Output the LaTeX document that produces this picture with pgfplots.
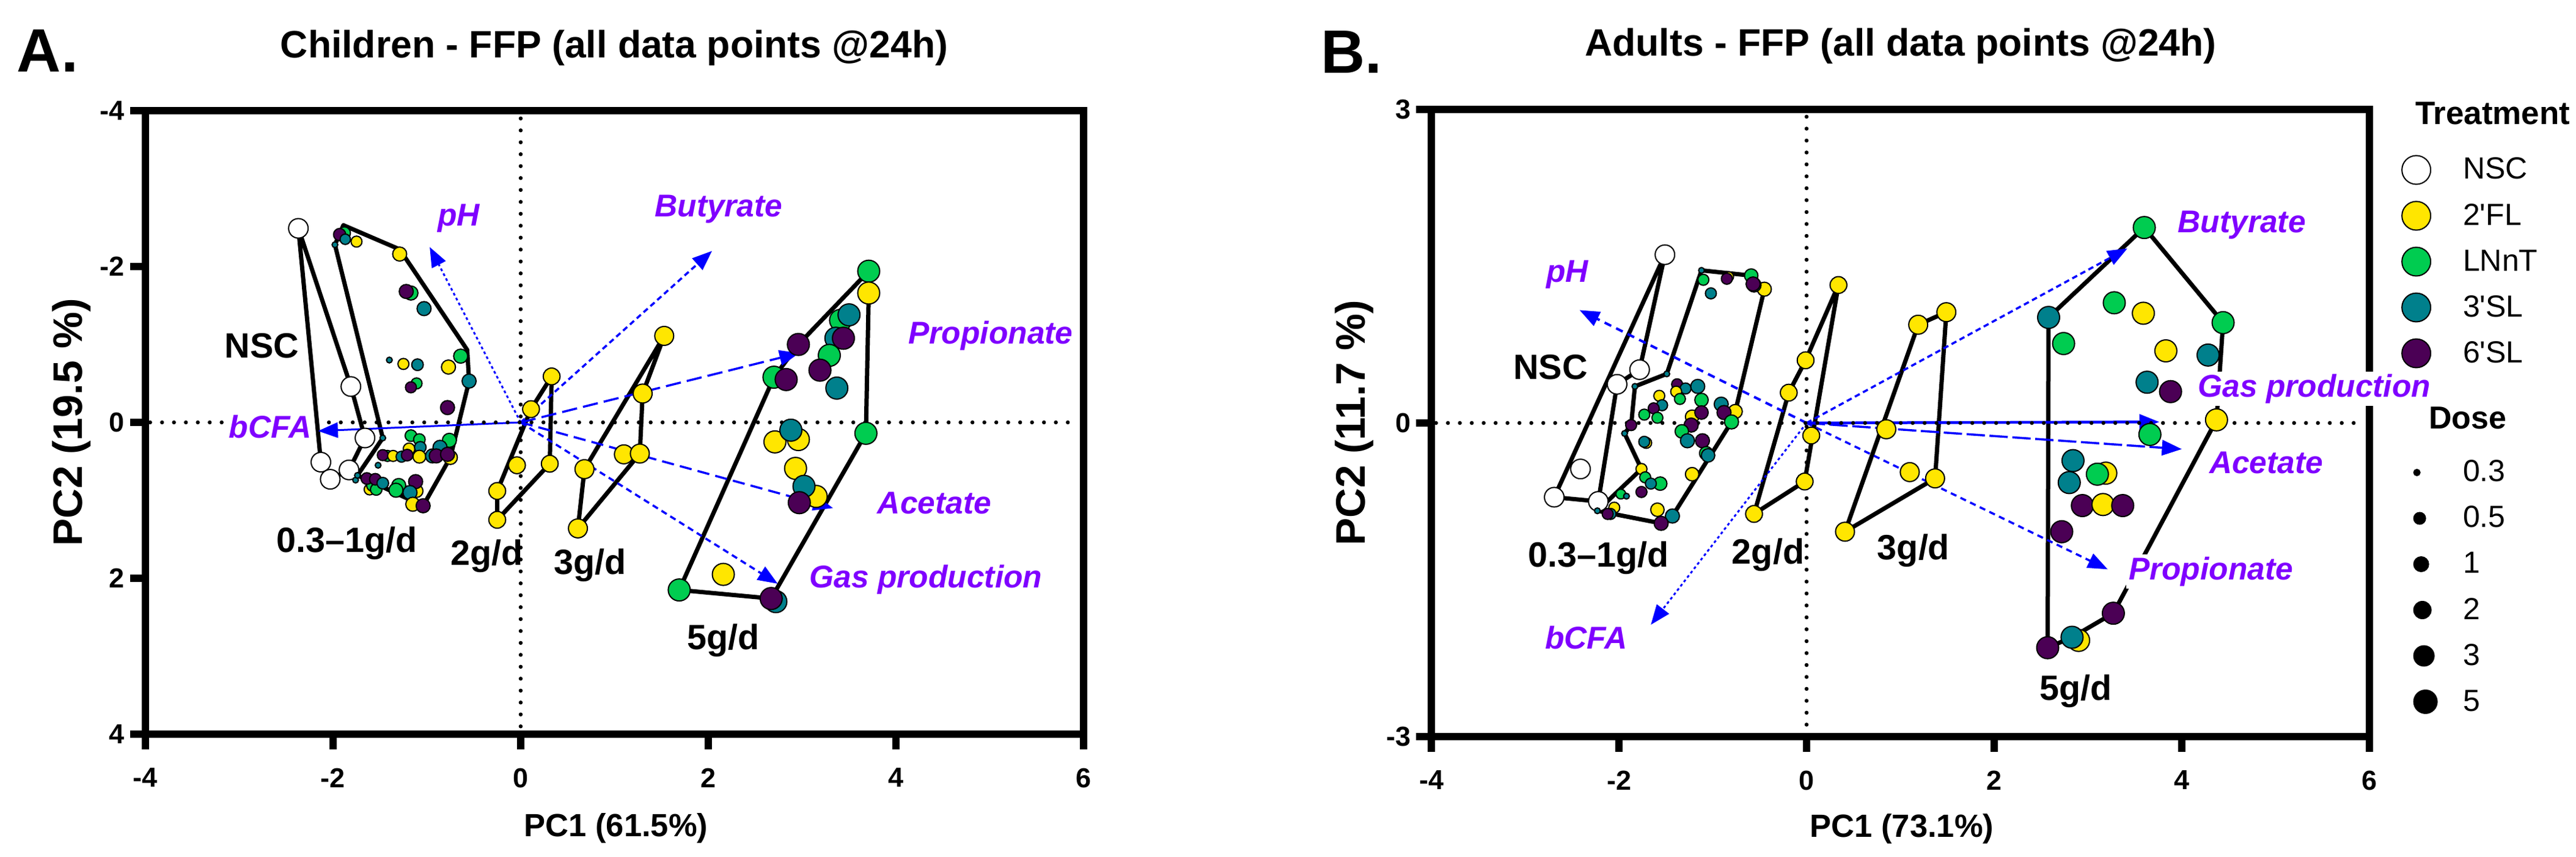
\documentclass[border=0pt]{standalone}
\usepackage{fontspec}
\setmainfont{Liberation Sans}
\usepackage{pgfplots}
\pgfplotsset{compat=1.18}
\usetikzlibrary{arrows.meta}

\definecolor{cF}{RGB}{255,230,0}
\definecolor{cL}{RGB}{0,204,80}
\definecolor{cT}{RGB}{0,128,140}
\definecolor{cS}{RGB}{75,0,85}
\definecolor{vio}{RGB}{127,0,255}
\definecolor{arrblue}{RGB}{0,0,255}

\pgfplotsset{
  pca/.style={
    scale only axis, width=307pt, clip=false,
    xmin=-4, xmax=6,
    xtick={-4,-2,0,2,4,6}, xticklabels={-4,-2,0,2,4,6},
    axis line style={line width=2.4pt},
    tick style={black, line width=2.4pt},
    major tick length=5pt, tick align=outside,
    xtick pos=left, ytick pos=left,
    tick label style={font=\fontsize{9}{10}\selectfont\bfseries},
    xticklabel style={anchor=north, inner sep=0pt, yshift=-6pt},
    yticklabel style={anchor=east, inner sep=0pt, xshift=-1.6pt},
  },
  pts/.style={
    scatter, only marks, mark=*, forget plot,
    scatter src=explicit symbolic,
    scatter/classes={
      N={draw=black, fill=white, line width=0.4pt},
      F={draw=black, fill=cF, line width=0.4pt},
      L={draw=black, fill=cL, line width=0.4pt},
      T={draw=black, fill=cT, line width=0.4pt},
      S={draw=black, fill=cS, line width=0.4pt}},
    visualization depends on={\thisrow{s}\as\psz},
    scatter/@pre marker code/.append style={/tikz/mark size=\psz},
  },
  hull/.style={black, line width=1.4pt, line join=round, mark=none, forget plot},
  arr/.style={color=arrblue, line width=0.7pt, mark=none, forget plot,
    -{Triangle[length=6.5pt,width=5pt]}},
  zero/.style={black, line width=1.3pt, line cap=round, mark=none,
    dash pattern=on 0pt off 3.9pt, forget plot},
}
\tikzset{
  lab/.style={font=\fontsize{10.3}{12}\selectfont\bfseries\itshape, text=vio,
    fill=white, inner sep=0.8pt, anchor=base},
  grp/.style={font=\fontsize{11.5}{13}\selectfont\bfseries, inner sep=0pt, anchor=base},
}

\begin{document}
\begin{tikzpicture}
\useasboundingbox (0,0) rectangle (843pt,280.4pt);

% ---------------- A: children ----------------
\begin{axis}[pca, at={(47.6pt,40.2pt)}, anchor=south west, height=204pt,
  y dir=reverse, ymin=-4, ymax=4,
  ytick={-4,-2,0,2,4}, yticklabels={-4,-2,0,2,4}]

% dose hulls
\addplot[hull] coordinates {(-2.37,-2.49) (-2.13,0.51) (-2.03,0.73) (-1.83,0.61) (-1.66,0.20) (-1.81,-0.46) (-2.37,-2.49)};
\addplot[hull] coordinates {(-1.98,-2.28) (-1.89,-2.53) (-1.29,-2.22) (-0.57,-0.93) (-0.55,-0.53) (-0.75,0.45) (-1.04,1.07) (-1.74,0.68) (-1.47,0.20) (-1.98,-2.28)};
\addplot[hull] coordinates {(0.33,-0.59) (0.31,0.53) (-0.25,1.25) (-0.25,0.88) (0.11,-0.17) (0.33,-0.59)};
\addplot[hull] coordinates {(1.53,-1.11) (1.30,-0.37) (1.27,0.40) (0.61,1.36) (0.68,0.60) (1.53,-1.11)};
\addplot[hull] coordinates {(1.69,2.15) (2.67,2.26) (3.68,0.14) (3.71,-1.66) (3.71,-1.94) (2.96,-1.00) (2.70,-0.58) (1.69,2.15)};

% samples: x y treatment marksize
\addplot[pts] table[row sep=\\, x=x, y=y, meta=c] {
x y c s\\
-2.37 -2.49 N 3.2\\ -1.81 -0.46 N 3.2\\ -1.66 0.20 N 3.2\\
-2.13 0.51 N 3.2\\ -2.03 0.73 N 3.2\\ -1.83 0.61 N 3.2\\
-1.88 -2.43 L 2.0\\ -1.93 -2.41 S 2.0\\ -1.87 -2.35 T 1.7\\
-1.75 -2.32 F 1.8\\ -1.98 -2.28 T 0.95\\ -1.29 -2.16 F 2.3\\
-1.17 -1.66 L 2.3\\ -1.22 -1.68 S 2.3\\ -1.03 -1.46 T 2.3\\
-1.40 -0.80 T 0.95\\ -1.25 -0.75 F 1.8\\ -1.10 -0.74 T 1.9\\
-0.77 -0.71 F 2.3\\ -0.64 -0.85 L 2.3\\ -0.55 -0.53 T 2.3\\
-1.11 -0.50 L 1.8\\ -1.17 -0.45 S 1.8\\ -0.78 -0.19 S 2.3\\
-1.47 0.20 T 0.95\\ -1.17 0.17 L 1.9\\ -1.08 0.22 L 1.9\\
-0.76 0.23 L 2.3\\ -1.19 0.34 F 1.9\\ -1.07 0.32 T 1.9\\
-0.86 0.32 T 2.3\\ -1.42 0.43 L 1.8\\ -1.47 0.42 S 1.8\\
-1.36 0.43 F 1.8\\ -1.27 0.44 T 1.8\\ -1.21 0.42 S 1.9\\
-1.08 0.44 F 2.1\\ -0.75 0.45 F 2.3\\ -0.94 0.43 T 2.3\\
-0.90 0.43 S 2.3\\ -0.78 0.41 S 2.3\\ -1.52 0.55 T 0.95\\
-1.76 0.74 T 0.95\\ -1.74 0.68 T 0.95\\ -1.61 0.86 F 1.8\\
-1.58 0.81 L 1.9\\ -1.54 0.86 L 1.9\\ -1.64 0.72 S 1.9\\
-1.55 0.73 S 1.9\\ -1.47 0.78 T 1.9\\ -1.30 0.81 L 2.3\\
-1.33 0.87 L 2.3\\ -1.11 0.88 F 2.1\\ -1.12 0.76 S 2.3\\
-1.18 0.90 T 2.3\\ -1.15 1.05 F 2.3\\ -1.04 1.07 S 2.3\\
0.33 -0.59 F 2.75\\ 0.11 -0.17 F 2.75\\ -0.04 0.55 F 2.75\\
0.31 0.53 F 2.75\\ -0.25 0.88 F 2.75\\ -0.25 1.25 F 2.75\\
1.53 -1.11 F 3.1\\ 1.30 -0.37 F 3.1\\ 1.10 0.41 F 3.1\\
1.27 0.40 F 3.1\\ 0.68 0.60 F 3.1\\ 0.61 1.36 F 3.1\\
3.71 -1.94 L 3.6\\ 3.71 -1.66 F 3.6\\ 3.41 -1.31 L 3.6\\
3.50 -1.38 T 3.6\\ 3.36 -1.08 T 3.6\\ 3.44 -1.08 S 3.6\\
3.29 -0.86 L 3.6\\ 3.19 -0.67 S 3.6\\ 3.37 -0.44 T 3.6\\
2.96 -1.00 S 3.6\\ 2.70 -0.58 L 3.6\\ 2.83 -0.55 S 3.6\\
3.68 0.14 L 3.6\\ 2.71 0.25 F 3.6\\ 2.96 0.22 F 3.6\\
2.88 0.10 T 3.6\\ 2.93 0.59 F 3.6\\ 3.15 0.95 F 3.6\\
3.02 0.82 T 3.6\\ 2.97 1.03 S 3.6\\ 1.69 2.15 L 3.6\\
2.16 1.95 F 3.6\\ 2.72 2.30 T 3.6\\ 2.67 2.26 S 3.6\\
};

% loadings
\addplot[arr, line width=0.6pt, dash pattern=on 0.9pt off 0.9pt] coordinates {(0,0) (-0.97,-2.25)};
\addplot[arr, dash pattern=on 1.8pt off 1.2pt] coordinates {(0,0) (2.04,-2.20)};
\addplot[arr, dash pattern=on 5pt off 2pt] coordinates {(0,0) (2.97,-0.89)};
\addplot[arr, dash pattern=on 4pt off 2pt] coordinates {(0,0) (3.33,1.10)};
\addplot[arr, dash pattern=on 2pt off 1.4pt] coordinates {(0,0) (2.74,2.07)};
\addplot[arr, line width=0.6pt] coordinates {(0,0) (-2.16,0.11)};

\addplot[zero] coordinates {(-3.95,0) (5.95,0)};
\addplot[zero] coordinates {(0,-3.9) (0,3.95)};

\node[lab] at (axis cs:-0.66,-2.52) {pH};
\node[lab] at (axis cs:2.11,-2.64) {Butyrate};
\node[lab] at (axis cs:5.01,-1.01) {Propionate};
\node[lab] at (axis cs:4.41,1.17) {Acetate};
\node[lab] at (axis cs:4.32,2.12) {Gas production};
\node[lab] at (axis cs:-2.67,0.20) {bCFA};

\node[grp] at (axis cs:-2.76,-0.83) {NSC};
\node[grp] at (axis cs:-1.85,1.67) {0.3–1g/d};
\node[grp] at (axis cs:-0.36,1.83) {2g/d};
\node[grp] at (axis cs:0.74,1.95) {3g/d};
\node[grp] at (axis cs:2.16,2.91) {5g/d};
\end{axis}

% ---------------- B: adults ----------------
\begin{axis}[pca, at={(468.4pt,39.4pt)}, anchor=south west, height=205.2pt,
  ymin=-3, ymax=3, ytick={-3,0,3}, yticklabels={-3,0,3},
  legend cell align=left,
  legend style={at={(1,1)}, anchor=north west, xshift=6.6pt, yshift=5.2pt,
    draw=none, fill=none, inner sep=0pt, row sep=1pt,
    font=\fontsize{10}{12}\selectfont,
    nodes={inner sep=1pt, text height=9pt, text depth=3pt},
    /tikz/every odd column/.append style={column sep=7.5pt}}]

\addplot[hull] coordinates {(-1.51,1.61) (-2.69,-0.71) (-2.22,-0.75) (-2.02,0.37) (-1.78,0.51) (-1.51,1.61)};
\addplot[hull] coordinates {(-1.12,1.46) (-0.59,1.41) (-0.45,1.28) (-0.76,0.11) (-0.80,0.01) (-1.43,-0.89) (-1.55,-0.96) (-2.23,-0.84) (-1.76,-0.44) (-1.94,-0.10) (-1.87,-0.02) (-1.83,0.35) (-1.49,0.47) (-1.12,1.46)};
\addplot[hull] coordinates {(0.34,1.32) (-0.02,-0.56) (-0.56,-0.87) (-0.19,0.29) (-0.01,0.60) (0.34,1.32)};
\addplot[hull] coordinates {(1.49,1.06) (1.37,-0.53) (0.41,-1.04) (1.19,0.94) (1.49,1.06)};
\addplot[hull] coordinates {(2.58,1.01) (3.60,1.87) (4.44,0.96) (4.37,0.03) (3.27,-1.82) (2.83,-2.05) (2.57,-2.15) (2.58,1.01)};

\addplot[pts] table[row sep=\\, x=x, y=y, meta=c] {
x y c s\\
-1.51 1.61 N 3.2\\ -1.78 0.51 N 3.2\\ -2.02 0.37 N 3.2\\
-2.41 -0.44 N 3.2\\ -2.69 -0.71 N 3.2\\ -2.22 -0.75 N 3.2\\
-1.12 1.46 T 0.95\\ -0.59 1.41 L 2.2\\ -0.45 1.28 F 2.3\\
-0.56 1.32 T 2.3\\ -0.57 1.33 S 2.3\\ -1.10 1.37 L 1.8\\
-0.83 1.40 F 1.6\\ -0.85 1.38 S 1.8\\ -1.02 1.24 T 1.8\\
-1.49 0.47 T 0.95\\ -1.83 0.35 T 0.95\\ -1.38 0.37 S 1.8\\
-1.29 0.33 T 1.8\\ -1.16 0.35 T 2.3\\ -1.39 0.30 F 1.8\\
-1.35 0.23 L 1.8\\ -1.57 0.26 F 1.8\\ -1.54 0.17 T 1.8\\
-1.63 0.14 S 1.8\\ -1.73 0.08 L 1.8\\ -1.59 0.05 L 1.8\\
-1.12 0.22 L 2.2\\ -1.22 0.06 F 2.2\\ -1.12 0.10 S 2.2\\
-0.91 0.18 T 2.3\\ -0.76 0.11 F 2.3\\ -0.88 0.10 S 2.3\\
-0.80 0.01 L 2.3\\ -1.87 -0.02 S 1.8\\ -1.94 -0.10 T 0.95\\
-1.23 -0.02 S 2.3\\ -1.33 -0.08 L 2.2\\ -1.27 -0.17 T 2.3\\
-1.11 -0.17 S 2.3\\ -1.07 -0.29 L 2.2\\ -1.05 -0.31 T 2.2\\
-1.71 -0.19 F 1.8\\ -1.73 -0.18 T 1.8\\ -1.76 -0.44 F 1.8\\
-1.22 -0.49 F 2.2\\ -1.72 -0.52 L 1.8\\ -1.56 -0.58 L 2.2\\
-1.66 -0.58 T 1.8\\ -1.76 -0.66 S 1.8\\ -1.98 -0.68 L 1.6\\
-1.92 -0.70 T 0.95\\ -1.59 -0.83 F 2.2\\ -2.05 -0.81 F 1.8\\
-2.23 -0.84 T 0.95\\ -2.09 -0.87 T 1.8\\ -2.12 -0.87 S 1.8\\
-1.43 -0.89 T 2.3\\ -1.55 -0.96 S 2.3\\
0.34 1.32 F 2.75\\ -0.01 0.60 F 2.75\\ -0.19 0.29 F 2.75\\
0.05 -0.12 F 2.75\\ -0.02 -0.56 F 2.75\\ -0.56 -0.87 F 2.75\\
1.19 0.94 F 3.1\\ 1.49 1.06 F 3.1\\ 0.85 -0.06 F 3.1\\
1.10 -0.47 F 3.1\\ 1.37 -0.53 F 3.1\\ 0.41 -1.04 F 3.1\\
2.58 1.01 T 3.6\\ 2.74 0.76 L 3.6\\ 3.60 1.87 L 3.6\\
3.28 1.15 L 3.6\\ 3.59 1.05 F 3.6\\ 4.44 0.96 L 3.6\\
3.83 0.69 F 3.6\\ 4.28 0.65 T 3.6\\ 3.63 0.39 T 3.6\\
3.88 0.30 S 3.6\\ 3.66 -0.11 L 3.6\\ 4.37 0.03 F 3.6\\
2.84 -0.36 T 3.6\\ 2.80 -0.57 T 3.6\\ 3.19 -0.48 F 3.6\\
3.10 -0.49 L 3.6\\ 2.94 -0.79 S 3.6\\ 3.16 -0.78 F 3.6\\
3.37 -0.79 S 3.6\\ 2.72 -1.04 S 3.6\\ 3.27 -1.82 S 3.6\\
2.90 -2.08 F 3.6\\ 2.83 -2.05 T 3.6\\ 2.57 -2.15 S 3.6\\
};

\addplot[arr, line width=0.8pt, dash pattern=on 2.4pt off 1.8pt] coordinates {(0,0) (-2.42,1.08)};
\addplot[arr, dash pattern=on 1.8pt off 1.2pt] coordinates {(0,0) (3.42,1.67)};
\addplot[arr, line width=0.6pt, dash pattern=on 0.9pt off 0.9pt] coordinates {(0,0) (-1.66,-1.93)};
\addplot[arr, line width=0.9pt] coordinates {(0,0) (3.76,0.01)};
\addplot[arr, dash pattern=on 6pt off 1.5pt] coordinates {(0,0) (4.00,-0.25)};
\addplot[arr, dash pattern=on 2pt off 1.5pt] coordinates {(0,0) (3.21,-1.40)};

\addplot[zero] coordinates {(-3.95,0) (5.95,0)};
\addplot[zero] coordinates {(0,2.93) (0,-2.97)};

\node[lab] at (axis cs:-2.55,1.35) {pH};
\node[lab] at (axis cs:4.64,1.82) {Butyrate};
\node[lab, anchor=base west] at (axis cs:4.14,0.25) {Gas production};
\node[lab] at (axis cs:4.90,-0.48) {Acetate};
\node[lab] at (axis cs:4.31,-1.50) {Propionate};
\node[lab] at (axis cs:-2.35,-2.16) {bCFA};

\node[grp] at (axis cs:-2.73,0.42) {NSC};
\node[grp] at (axis cs:-2.22,-1.38) {0.3–1g/d};
\node[grp] at (axis cs:-0.41,-1.35) {2g/d};
\node[grp] at (axis cs:1.14,-1.31) {3g/d};
\node[grp] at (axis cs:2.87,-2.65) {5g/d};

\addlegendimage{empty legend}
\addlegendentry[text depth=5.8pt]{\makebox[0pt][l]{\hspace{-15.6pt}\fontsize{10.6}{12}\selectfont\bfseries Treatment}}
\addlegendimage{only marks, mark=*, mark size=4.7pt, mark options={draw=black, fill=white, line width=0.4pt}}
\addlegendentry{NSC}
\addlegendimage{only marks, mark=*, mark size=4.7pt, mark options={draw=black, fill=cF, line width=0.4pt}}
\addlegendentry{2\textquotesingle FL}
\addlegendimage{only marks, mark=*, mark size=4.7pt, mark options={draw=black, fill=cL, line width=0.4pt}}
\addlegendentry{LNnT}
\addlegendimage{only marks, mark=*, mark size=4.7pt, mark options={draw=black, fill=cT, line width=0.4pt}}
\addlegendentry{3\textquotesingle SL}
\addlegendimage{only marks, mark=*, mark size=4.7pt, mark options={draw=black, fill=cS, line width=0.4pt}}
\addlegendentry{6\textquotesingle SL}
\addlegendimage{empty legend}
\addlegendentry[text height=15.8pt, text depth=5.2pt]{\makebox[0pt][l]{\hspace{-11.2pt}\fontsize{10.4}{12}\selectfont\bfseries Dose}}
\addlegendimage{only marks, mark=*, mark size=1.0pt, black, xshift=0.2pt}
\addlegendentry{0.3}
\addlegendimage{only marks, mark=*, mark size=1.9pt, black, xshift=1.1pt}
\addlegendentry{0.5}
\addlegendimage{only marks, mark=*, mark size=2.4pt, black, xshift=1.6pt}
\addlegendentry{1}
\addlegendimage{only marks, mark=*, mark size=2.8pt, black, xshift=2pt}
\addlegendentry{2}
\addlegendimage{only marks, mark=*, mark size=3.3pt, black, xshift=2.5pt}
\addlegendentry{3}
\addlegendimage{only marks, mark=*, mark size=3.8pt, black, xshift=3pt}
\addlegendentry{5}
\end{axis}

% titles, panel letters and axis labels
\node[anchor=base, font=\fontsize{12.5}{14}\selectfont\bfseries] at (201pt,261.4pt) {Children - FFP (all data points @24h)};
\node[anchor=base, font=\fontsize{12.5}{14}\selectfont\bfseries] at (622pt,262pt) {Adults - FFP (all data points @24h)};
\node[anchor=base west, inner sep=0pt, font=\fontsize{20}{22}\selectfont\bfseries] at (5.4pt,256.8pt) {A.};
\node[anchor=base west, inner sep=0pt, font=\fontsize{20}{22}\selectfont\bfseries] at (432pt,256.4pt) {B.};
\node[anchor=base, font=\fontsize{10.5}{12}\selectfont\bfseries] at (201.6pt,6.6pt) {PC1 (61.5\%)};
\node[anchor=base, font=\fontsize{10.5}{12}\selectfont\bfseries] at (622.4pt,6.4pt) {PC1 (73.1\%)};
\node[anchor=base, rotate=90, font=\fontsize{13.5}{15}\selectfont\bfseries] at (27pt,142.2pt) {PC2 (19.5 \%)};
\node[anchor=base, rotate=90, font=\fontsize{13.5}{15}\selectfont\bfseries] at (446.6pt,142pt) {PC2 (11.7 \%)};
\end{tikzpicture}
\end{document}
